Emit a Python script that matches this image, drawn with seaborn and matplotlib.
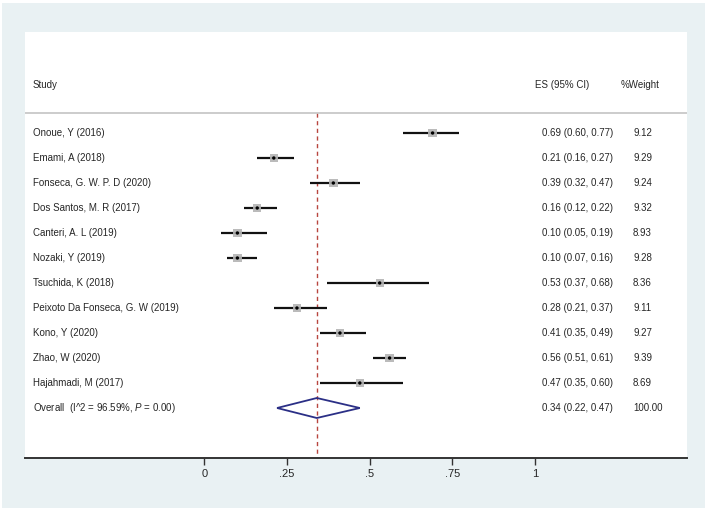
import numpy as np
import pandas as pd
import matplotlib
matplotlib.use("Agg")
import matplotlib.pyplot as plt
import seaborn as sns
from matplotlib.patches import Rectangle, Polygon

studies = ["Onoue, Y (2016)", "Emami, A (2018)", "Fonseca, G. W. P. D (2020)",
           "Dos Santos, M. R (2017)", "Canteri, A. L (2019)", "Nozaki, Y (2019)",
           "Tsuchida, K (2018)", "Peixoto Da Fonseca, G. W (2019)", "Kono, Y (2020)",
           "Zhao, W (2020)", "Hajahmadi, M (2017)"]
es = [0.69, 0.21, 0.39, 0.16, 0.10, 0.10, 0.53, 0.28, 0.41, 0.56, 0.47]
ci_low = [0.60, 0.16, 0.32, 0.12, 0.05, 0.07, 0.37, 0.21, 0.35, 0.51, 0.35]
ci_high = [0.77, 0.27, 0.47, 0.22, 0.19, 0.16, 0.68, 0.37, 0.49, 0.61, 0.60]
weights = [9.12, 9.29, 9.24, 9.32, 8.93, 9.28, 8.36, 9.11, 9.27, 9.39, 8.69]

overall_es, overall_low, overall_high = 0.34, 0.22, 0.47
overall_label = "Overall  (I^2 = 96.59%, $\\it{P}$ = 0.00)"
xticks = [0, 0.25, 0.5, 0.75, 1]
xticklabels = ["0", ".25", ".5", ".75", "1"]

df = pd.DataFrame({"study": studies, "es": es, "lo": ci_low, "hi": ci_high,
                   "weight": weights})
df["row"] = np.arange(len(df))
overall_row = len(df)

sns.set_theme(style="white")
plt.rcParams["font.family"] = ["Liberation Sans", "DejaVu Sans"]
plt.rcParams["mathtext.fontset"] = "custom"
plt.rcParams["mathtext.it"] = "Liberation Sans:italic"
plt.rcParams["mathtext.rm"] = "Liberation Sans"

fig = plt.figure(figsize=(7.09, 5.11), dpi=100, facecolor="white")
fig.patches.append(Rectangle((2 / 709, 3 / 511), 703 / 709, 505 / 511,
                             transform=fig.transFigure, facecolor="#e9f1f3",
                             edgecolor="none", zorder=-10))
ax = fig.add_axes([25 / 709, 53 / 511, 662 / 709, 426 / 511])
ax.set_facecolor("white")

ax.set_xlim(-0.542, 1.459)
ax.set_ylim(13.0, -4.04)

# reference line for overall estimate
ax.vlines(overall_es, -0.8, 13.0, colors="#b8463f", linestyles=(0, (3, 2.5)),
          linewidth=1.0, zorder=1)
# header separator
ax.axhline(-0.8, color="#c4c4c4", linewidth=1.2, zorder=2)

# confidence intervals
ax.hlines(df["row"], df["lo"], df["hi"], colors="#111111", linewidth=1.6, zorder=3)
# weight boxes + point estimates
sns.scatterplot(data=df, x="es", y="row", marker="s", color="#b4b4b4",
                s=df["weight"] * 4.0, edgecolor="none", alpha=0.9,
                legend=False, ax=ax, zorder=4)
sns.scatterplot(data=df, x="es", y="row", marker="o", color="black", s=6,
                edgecolor="none", legend=False, ax=ax, zorder=5)

# overall diamond
ax.add_patch(Polygon([(overall_low, overall_row), (overall_es, overall_row - 0.4),
                      (overall_high, overall_row), (overall_es, overall_row + 0.4)],
                     closed=True, fill=False, edgecolor="#2b2f86", linewidth=1.3,
                     zorder=4))

fs = 7
ax.text(-0.519, -1.92, "Study", fontsize=fs, va="center", ha="left")
ax.text(1.0, -1.92, "ES (95% CI)", fontsize=fs, va="center", ha="left")
ax.text(1.257, -1.92, "%Weight", fontsize=fs, va="center", ha="left")
for _, r in df.iterrows():
    ax.text(-0.519, r["row"], r["study"], fontsize=fs, va="center", ha="left")
    ax.text(1.02, r["row"], f"{r['es']:.2f} ({r['lo']:.2f}, {r['hi']:.2f})",
            fontsize=fs, va="center", ha="left")
    ax.text(1.296, r["row"], f"{r['weight']:.2f}", fontsize=fs, va="center",
            ha="left")
ax.text(-0.519, overall_row, overall_label, fontsize=fs, va="center", ha="left")
ax.text(1.02, overall_row,
        f"{overall_es:.2f} ({overall_low:.2f}, {overall_high:.2f})",
        fontsize=fs, va="center", ha="left")
ax.text(1.296, overall_row, "100.00", fontsize=fs, va="center", ha="left")

for side in ["top", "left", "right"]:
    ax.spines[side].set_visible(False)
ax.spines["bottom"].set_color("#333333")
ax.spines["bottom"].set_linewidth(1.4)
ax.set_yticks([])
ax.set_xticks(xticks)
ax.set_xticklabels(xticklabels, fontsize=8)
ax.tick_params(axis="x", bottom=True, length=5, width=1, color="#333333",
               pad=3)
ax.set_xlabel("")
ax.set_ylabel("")

fig.savefig("out.png", dpi=100, facecolor="white")
